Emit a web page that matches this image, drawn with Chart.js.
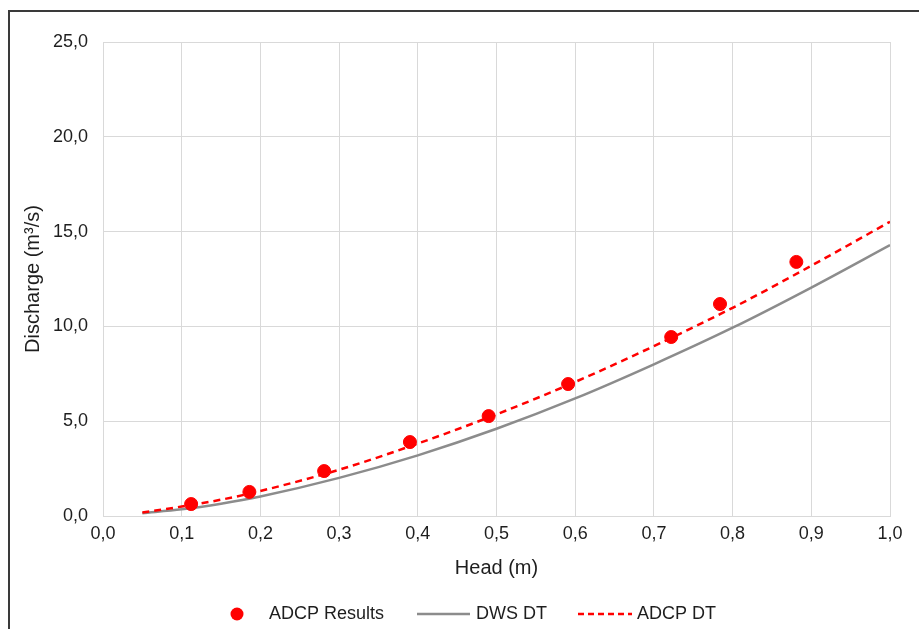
<!DOCTYPE html>
<html>
<head>
<meta charset="utf-8">
<script src="https://cdn.jsdelivr.net/npm/chart.js@4.4.0/dist/chart.umd.min.js"></script>
<style>
  html, body { margin: 0; padding: 0; background: #fff; }
  #wrap { position: relative; width: 919px; height: 629px; overflow: hidden; }
  #frame { position: absolute; left: 8px; top: 10px; width: 1000px; height: 1000px; border: 2px solid #3a3a3a; box-sizing: border-box; pointer-events: none; }
  canvas { position: absolute; left: 0; top: 0; }
</style>
</head>
<body>
<div id="wrap">
  <canvas id="chart" width="919" height="629"></canvas>
  <div id="frame"></div>
</div>
<script>
// Measured ADCP results
const adcpHead = [0.112, 0.186, 0.281, 0.390, 0.490, 0.591, 0.722, 0.784, 0.881];
const adcpQ = [0.63, 1.27, 2.37, 3.90, 5.27, 6.96, 9.44, 11.18, 13.40];

// Rating curves
const curveHead = [0.05, 0.10, 0.15, 0.20, 0.30, 0.40, 0.50, 0.60, 0.70, 0.80, 0.90, 1.00];
const dwsDT = [0.15, 0.35, 0.65, 1.03, 2.01, 3.20, 4.60, 6.20, 8.00, 9.93, 12.05, 14.29];
const adcpDT = [0.18, 0.50, 0.86, 1.32, 2.44, 3.82, 5.36, 7.07, 8.96, 10.98, 13.20, 15.52];

const seriesNames = ['ADCP Results', 'DWS DT', 'ADCP DT'];

const toXY = (xs, ys) => xs.map((x, i) => ({ x: x, y: ys[i] }));
const fmt = v => Number(v).toFixed(1).replace('.', ',');

const FONT = "'Liberation Sans', Arial, sans-serif";
const TEXT = '#1e1e1e';

// Legend drawn along the bottom, like the spreadsheet one
const bottomLegend = {
    id: 'bottomLegend',
    afterDraw(chart) {
        const ctx = chart.ctx;
        const y = 614;
        ctx.save();
        ctx.font = '18px ' + FONT;
        ctx.textBaseline = 'middle';

        // marker
        ctx.beginPath();
        ctx.arc(237, y, 6.5, 0, Math.PI * 2);
        ctx.fillStyle = '#ff0000';
        ctx.fill();
        ctx.fillStyle = TEXT;
        ctx.fillText(seriesNames[0], 269, y);

        // solid grey line
        ctx.strokeStyle = '#8c8c8c';
        ctx.lineWidth = 2.5;
        ctx.beginPath();
        ctx.moveTo(417, y);
        ctx.lineTo(470, y);
        ctx.stroke();
        ctx.fillText(seriesNames[1], 476, y);

        // dashed red line
        ctx.strokeStyle = '#ff0000';
        ctx.setLineDash([6, 4]);
        ctx.beginPath();
        ctx.moveTo(578, y);
        ctx.lineTo(632, y);
        ctx.stroke();
        ctx.setLineDash([]);
        ctx.fillText(seriesNames[2], 637, y);
        ctx.restore();
    }
};

new Chart(document.getElementById('chart').getContext('2d'), {
    type: 'scatter',
    data: {
        datasets: [
            {
                label: seriesNames[0],
                data: toXY(adcpHead, adcpQ),
                backgroundColor: '#ff0000',
                borderColor: '#ff0000',
                pointRadius: 6.5,
                showLine: false,
                order: 0
            },
            {
                label: seriesNames[1],
                data: toXY(curveHead, dwsDT),
                showLine: true,
                borderColor: '#8c8c8c',
                borderWidth: 2.5,
                pointRadius: 0,
                cubicInterpolationMode: 'monotone',
                order: 2
            },
            {
                label: seriesNames[2],
                data: toXY(curveHead, adcpDT),
                showLine: true,
                borderColor: '#ff0000',
                borderWidth: 2.5,
                borderDash: [7, 5],
                pointRadius: 0,
                cubicInterpolationMode: 'monotone',
                order: 1
            }
        ]
    },
    options: {
        responsive: false,
        animation: false,
        layout: { padding: { left: 0, top: 42, right: 29, bottom: 49 } },
        plugins: {
            legend: { display: false },
            tooltip: { enabled: false }
        },
        scales: {
            x: {
                type: 'linear',
                min: 0,
                max: 1,
                afterFit: s => { s.height = 64; },
                grid: { color: '#d9d9d9', drawTicks: false },
                border: { color: '#d9d9d9' },
                ticks: {
                    stepSize: 0.1,
                    padding: 7,
                    color: TEXT,
                    font: { family: FONT, size: 18 },
                    callback: v => fmt(v)
                },
                title: {
                    display: true,
                    text: 'Head (m)',
                    color: TEXT,
                    padding: { top: 0, bottom: 0 },
                    font: { family: FONT, size: 20 }
                }
            },
            y: {
                min: 0,
                max: 25,
                afterFit: s => { s.width = 103; },
                grid: { color: '#d9d9d9', drawTicks: false },
                border: { color: '#d9d9d9' },
                ticks: {
                    stepSize: 5,
                    padding: 15,
                    color: TEXT,
                    font: { family: FONT, size: 18 },
                    callback: v => fmt(v)
                },
                title: {
                    display: true,
                    text: 'Discharge (m³/s)',
                    color: TEXT,
                    padding: { top: 21, bottom: 0 },
                    font: { family: FONT, size: 20 }
                }
            }
        }
    },
    plugins: [bottomLegend]
});
</script>
</body>
</html>
